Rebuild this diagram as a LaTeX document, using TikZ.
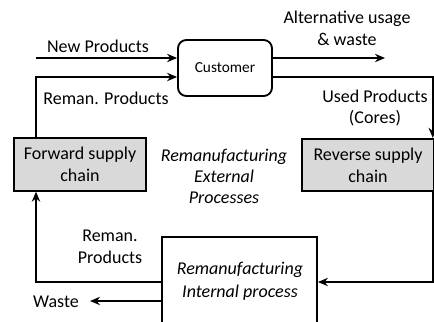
\documentclass[tikz,border=0pt]{standalone}
\usepackage{fontspec}
\setmainfont{Carlito}
\usetikzlibrary{positioning}
\usetikzlibrary{arrows.meta}

\begin{document}
\begin{tikzpicture}[
            x = 0.6pt, y = -0.6pt, % pixel grid of the sketch
            > = {Stealth[length = 6pt, width = 5pt]}, % arrow head style
            line width = 1.1pt,
            font = \fontsize{10.8}{13}\selectfont
        ]

        \tikzstyle{chain}=[
            draw,
            fill = gray!30,
            align = center,
            minimum width = 79pt,
            minimum height = 31.5pt,
            inner sep = 0pt
        ]
        \tikzstyle{note}=[align = center, inner sep = 0pt]

        \useasboundingbox (0,0) rectangle (434,322);

	% CUSTOMER AND SUPPLY CHAINS
        \node[draw, rounded corners = 5pt, minimum width = 56.4pt, minimum height = 33.6pt, font = \fontsize{9.2}{11}\selectfont] (C) at (225,68) {Customer};
        \node[chain] (F) at (80,164.5) {Forward supply\\chain};
        \node[chain] (R) at (368,165) {Reverse supply\\chain};

	% INTERNAL PROCESS (CUT AT THE PAGE EDGE)
        \node[draw, fill = white, minimum width = 93pt, minimum height = 62pt] (I) at (239.5,289) {};
        \node[note, font = \fontsize{10.8}{14}\selectfont\itshape] (IT) at (240,281) {Remanufacturing\\Internal process};

        \coordinate (NP) at (36,58);
        \coordinate (AU) at (385,58);
        \coordinate (W) at (90,301);

	% FLOWS
        \draw[->] (NP) -- (C.west |- NP);
        \draw[->] (F.north -| NP) |- ([yshift=-5.4pt]C.west);
        \draw[->] ([yshift=6pt]C.east) -- (AU);
        \draw[->] ([yshift=-5.4pt]C.east) -| ([xshift=-1.2pt]R.north east);
        \draw[->] ([xshift=-1.2pt]R.south east) |- ([yshift=4.2pt]I.east);
        \draw[->] ([yshift=4.2pt]I.west) -| (F.south -| NP);
        \draw[->] ([yshift=-7.2pt]I.west) -- (W);

	% LABELS
        \node[note] (NPL) at (98,46) {New Products};
        \node[note] (RPL) at (106,98) {Reman. Products};
        \node[note] (AUL) at (347,28) {Alternative usage\\\& waste};
        \node[note] (UPL) at (375,108) {Used Products\\(Cores)};
        \node[note, font = \fontsize{10.8}{12.6}\selectfont\itshape] (EXT) at (224,176) {Remanufacturing\\External\\Processes};
        \node[note] (RPL2) at (110,247) {Reman.\\Products};
        \node[note] (WL) at (56,302) {Waste};

  \end{tikzpicture}
\end{document}
